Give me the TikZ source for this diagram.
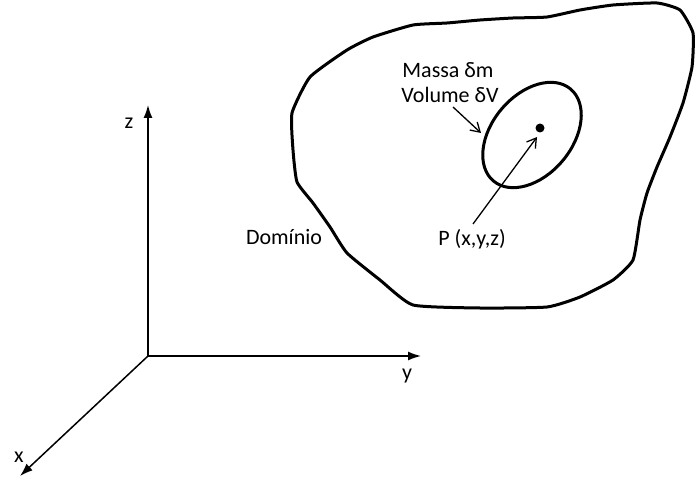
\documentclass[tikz,border=0pt]{standalone}
\usepackage{fontspec}
\setmainfont{Carlito}
\usetikzlibrary{arrows.meta}
\begin{document}
\begin{tikzpicture}[x=1pt,y=-1pt,
  axis/.style={line width=1.5pt,-{Latex[length=13pt,width=9pt]}},
  thin arrow/.style={line width=1.3pt,-{Straight Barb[length=9pt,width=11pt]}},
  bold/.style={line width=3pt},
  lbl/.style={font=\fontsize{22}{26}\selectfont,inner sep=0pt}]
\useasboundingbox (0,0) rectangle (695,486);
\coordinate (O) at (148,356);
\coordinate (zend) at (148,105);
\coordinate (yend) at (421,356);
\coordinate (xend) at (20,476);
\draw[axis] (O) -- (zend);
\draw[axis] (O) -- (yend);
\draw[axis] (O) -- (xend);
\node[lbl] (zl) at (129,123) {z};
\node[lbl] (yl) at (407,376) {y};
\node[lbl] (xl) at (19,457) {x};
% domain
\draw[bold,line join=round] plot[smooth cycle,tension=0.3] coordinates {
 (292,113) (310,77) (347,50) (373,37) (413,25) (447,23) (480,20) (513,18)
 (547,17) (580,10) (613,5) (657,3) (680,10) (693,33) (692,67) (683,103)
 (670,137) (657,167) (647,193) (640,220) (633,260) (613,280) (580,297)
 (547,307) (480,308) (413,305) (380,280) (347,253) (330,227) (313,203)
 (297,182) (293,150)};
\node[lbl] (dom) at (284,237) {Domínio};
% element
\draw[bold] (532,135) ellipse [x radius=60, y radius=40, rotate=50];
\fill (540,128) circle (4.5pt) coordinate (P);
\node[lbl] (m1) at (448,70) {Massa δm};
\node[lbl] (m2) at (450,95) {Volume δV};
\node[lbl] (pl) at (472,239) {P (x,y,z)};
\coordinate (a1) at (453,107);
\coordinate (a2) at (481,133);
\draw[thin arrow] (a1) -- (a2);
\coordinate (b1) at (473,224);
\coordinate (b2) at (537,137);
\draw[thin arrow] (b1) -- (b2);
\end{tikzpicture}
\end{document}
